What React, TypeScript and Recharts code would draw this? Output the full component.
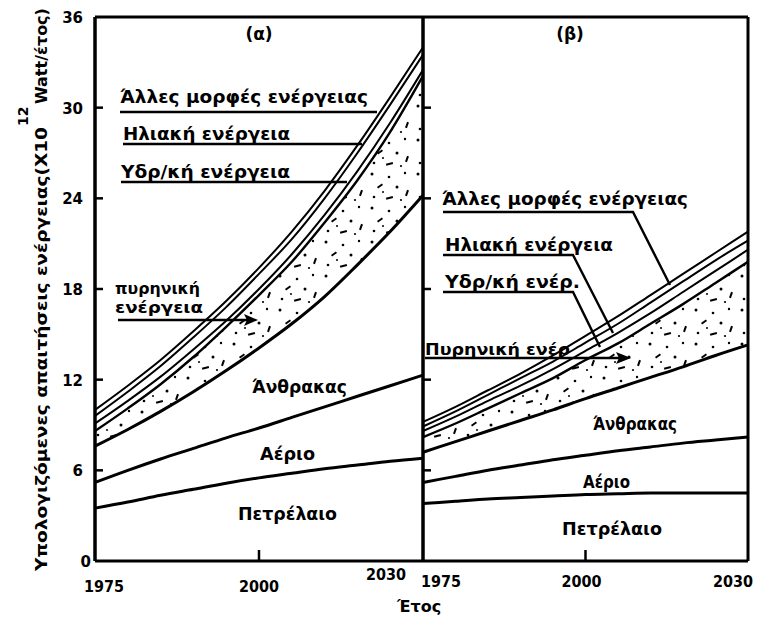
import { Area, ComposedChart, Line, ReferenceLine, XAxis, YAxis } from "recharts";

const FONT = "'DejaVu Sans', sans-serif";

// x positions in the drawing: 1975 at the left edge, 2000 in the middle, 2030 at the right edge
const years = [1975, 1980, 1985, 1990, 1995, 2000, 2006, 2012, 2018, 2024, 2030];
const yTicks = [0, 6, 12, 18, 24, 30, 36];

// panel (α): cumulative tops of each band (x10^12 W)
const oilA = [3.5, 3.9, 4.35, 4.75, 5.15, 5.5, 5.8, 6.1, 6.35, 6.6, 6.8];
const gasA = [5.2, 6.0, 6.75, 7.45, 8.15, 8.8, 9.5, 10.2, 10.9, 11.6, 12.3];
const coalA = [7.6, 8.7, 9.9, 11.2, 12.6, 14.1, 15.7, 17.5, 19.6, 21.8, 24.2];
const nuclearA = [8.6, 10.1, 11.7, 13.5, 15.5, 17.6, 19.8, 22.4, 25.2, 28.4, 32.1];
const hydroA = [9.1, 10.6, 12.2, 14.0, 15.9, 18.0, 20.3, 22.9, 25.8, 29.0, 32.5];
const solarA = [9.6, 11.2, 12.9, 14.8, 16.8, 19.0, 21.3, 24.0, 27.0, 30.2, 33.5];
const otherA = [10.0, 11.6, 13.3, 15.2, 17.2, 19.4, 21.8, 24.5, 27.5, 30.7, 34.0];

// panel (β)
const oilB = [3.8, 3.95, 4.1, 4.2, 4.3, 4.4, 4.45, 4.5, 4.5, 4.5, 4.5];
const gasB = [5.2, 5.6, 6.0, 6.35, 6.7, 7.0, 7.3, 7.55, 7.8, 8.0, 8.2];
const coalB = [7.2, 7.9, 8.6, 9.3, 10.0, 10.75, 11.45, 12.15, 12.85, 13.6, 14.3];
const nuclearB = [8.2, 9.1, 10.1, 11.1, 12.1, 13.3, 14.4, 15.7, 17.0, 18.4, 19.8];
const hydroB = [8.6, 9.55, 10.6, 11.6, 12.7, 13.9, 15.1, 16.4, 17.8, 19.2, 20.6];
const solarB = [8.9, 9.9, 11.0, 12.1, 13.2, 14.45, 15.7, 17.1, 18.5, 19.9, 21.2];
const otherB = [9.2, 10.2, 11.3, 12.4, 13.6, 14.9, 16.2, 17.6, 19.0, 20.4, 21.8];

function buildRows(oil, gas, coal, nuclear, hydro, solar, other) {
  return years.map((year, i) => ({
    year,
    oil: oil[i],
    gas: gas[i],
    coal: coal[i],
    nuclear: nuclear[i],
    hydro: hydro[i],
    solar: solar[i],
    other: other[i],
    band: [coal[i], nuclear[i]],
  }));
}

const rowsA = buildRows(oilA, gasA, coalA, nuclearA, hydroA, solarA, otherA);
const rowsB = buildRows(oilB, gasB, coalB, nuclearB, hydroB, solarB, otherB);

const PLOT_TOP = 17;
const CHART_H = 623;

// tick label tweaks per panel: dx from tick, baseline below axis
const labelsA = { 1975: [9, 31], 2000: [0, 31], 2030: [-37, 19] };
const labelsB = { 1975: [18, 26], 2000: [-4, 26], 2030: [-15, 26] };

function makeXTick(labels) {
  return (props) => {
    const { x, y, payload } = props;
    const spec = labels[payload.value];
    if (!spec) return <g />;
    return (
      <g>
        {payload.value === 2000 && (
          <line x1={x} x2={x} y1={y} y2={y - 11} stroke="#000" strokeWidth={2.5} />
        )}
        <text
          x={x + spec[0]}
          y={y + spec[1]}
          textAnchor="middle"
          textLength={40}
          lengthAdjust="spacingAndGlyphs"
          fontFamily={FONT}
          fontWeight="bold"
          fontSize={16}
          fill="#000"
        >
          {payload.value}
        </text>
      </g>
    );
  };
}

function makeYTick(withText) {
  return (props) => {
    const { x, y, payload } = props;
    const v = payload.value;
    return (
      <g>
        {v > 0 && v < 36 && (
          <line x1={x} x2={x + 8} y1={y} y2={y} stroke="#000" strokeWidth={2.5} />
        )}
        {withText && (
          <text
            x={v === 0 ? x - 4 : x - 12}
            y={y + 6}
            textAnchor="end"
            fontFamily={FONT}
            fontWeight="bold"
            fontSize={15}
            fill="#000"
          >
            {v}
          </text>
        )}
      </g>
    );
  };
}

function Speckle({ id }) {
  return (
    <defs>
      <pattern id={id} width="46" height="34" patternUnits="userSpaceOnUse">
        <rect width="46" height="34" fill="#fff" />
        <circle cx="4" cy="4" r="1.5" fill="#000" />
        <circle cx="21" cy="7" r="1.3" fill="#000" />
        <circle cx="37" cy="3" r="1.2" fill="#000" />
        <rect x="9" y="15" width="6" height="2" fill="#000" transform="rotate(-35 12 16)" />
        <circle cx="29" cy="17" r="1.5" fill="#000" />
        <rect x="38" y="20" width="2" height="6" fill="#000" transform="rotate(20 39 23)" />
        <circle cx="6" cy="27" r="1.3" fill="#000" />
        <rect x="18" y="27" width="7" height="2" fill="#000" transform="rotate(-15 21 28)" />
        <circle cx="33" cy="30" r="1.1" fill="#000" />
        <circle cx="15" cy="22" r="1" fill="#000" />
      </pattern>
    </defs>
  );
}

function Panel({ rows, width, margin, yWidth, showYText, labels, patternId, left, leftBorder }) {
  return (
    <div style={{ position: "absolute", left, top: 0 }}>
      <ComposedChart width={width} height={CHART_H} data={rows} margin={margin}>
        <Speckle id={patternId} />
        <XAxis
          dataKey="year"
          type="category"
          interval={0}
          height={CHART_H - 561}
          tickSize={0}
          tickMargin={0}
          axisLine={{ stroke: "#000", strokeWidth: 3 }}
          tickLine={false}
          tick={makeXTick(labels)}
        />
        <YAxis
          type="number"
          domain={[0, 36]}
          ticks={yTicks}
          width={yWidth}
          tickSize={0}
          tickMargin={0}
          axisLine={leftBorder ? { stroke: "#000", strokeWidth: 3 } : false}
          tickLine={false}
          tick={makeYTick(showYText)}
        />
        <Area
          type="monotone"
          dataKey="band"
          stroke="none"
          fill={`url(#${patternId})`}
          fillOpacity={1}
          isAnimationActive={false}
        />
        <Line type="monotone" dataKey="oil" stroke="#000" strokeWidth={3} dot={false} isAnimationActive={false} />
        <Line type="monotone" dataKey="gas" stroke="#000" strokeWidth={3} dot={false} isAnimationActive={false} />
        <Line type="monotone" dataKey="coal" stroke="#000" strokeWidth={3} dot={false} isAnimationActive={false} />
        <Line type="monotone" dataKey="nuclear" stroke="#000" strokeWidth={2.4} dot={false} isAnimationActive={false} />
        <Line type="monotone" dataKey="hydro" stroke="#000" strokeWidth={2} dot={false} isAnimationActive={false} />
        <Line type="monotone" dataKey="solar" stroke="#000" strokeWidth={2} dot={false} isAnimationActive={false} />
        <Line type="monotone" dataKey="other" stroke="#000" strokeWidth={2} dot={false} isAnimationActive={false} />
        <ReferenceLine y={36} stroke="#000" strokeWidth={3} />
        <ReferenceLine x={1975} stroke="#000" strokeWidth={3} />
        <ReferenceLine x={2030} stroke="#000" strokeWidth={3} />
      </ComposedChart>
    </div>
  );
}

function Note({ x, y, w, size = 15, children }) {
  return (
    <text
      x={x}
      y={y}
      textLength={w}
      lengthAdjust="spacingAndGlyphs"
      fontFamily={FONT}
      fontWeight="bold"
      fontSize={size}
      fill="#000"
    >
      {children}
    </text>
  );
}

function Annotations() {
  const ln = { stroke: "#000", strokeWidth: 2.4, fill: "none" };
  const bold = { fontFamily: FONT, fontWeight: "bold", fill: "#000" };
  return (
    <svg
      width={761}
      height={623}
      style={{ position: "absolute", left: 0, top: 0, pointerEvents: "none" }}
    >
      {/* y axis title, rotated, in three pieces like the original lettering */}
      <text
        transform="translate(47, 571) rotate(-90)"
        textLength={444}
        lengthAdjust="spacingAndGlyphs"
        fontSize={16}
        {...bold}
      >
        Υπολογιζόμενες απαιτήσεις ενέργειας(X10
      </text>
      <text transform="translate(28, 126) rotate(-90)" fontSize={14} {...bold}>
        12
      </text>
      <text transform="translate(47, 104) rotate(-90)" fontSize={16} {...bold}>
        Watt/έτος)
      </text>
      <text x={397} y={612} fontSize={16} {...bold}>Έτος</text>

      {/* panel titles */}
      <text x={259} y={40} textAnchor="middle" fontSize={17} {...bold}>(α)</text>
      <text x={570} y={40} textAnchor="middle" fontSize={17} {...bold}>(β)</text>

      {/* panel (α) */}
      <Note x={120} y={103} w={248} size={18}>Άλλες μορφές ενέργειας</Note>
      <line x1={120} y1={112} x2={377} y2={112} {...ln} />
      <Note x={123} y={140} w={167} size={18}>Ηλιακή ενέργεια</Note>
      <line x1={123} y1={144} x2={362} y2={144} {...ln} />
      <Note x={121} y={178} w={169} size={18}>Υδρ/κή ενέργεια</Note>
      <line x1={121} y1={182} x2={347} y2={182} {...ln} />
      <Note x={115} y={294} w={85} size={15}>πυρηνική</Note>
      <Note x={115} y={313} w={88} size={15}>ενέργεια</Note>
      <line x1={118} y1={320} x2={252} y2={320} {...ln} />
      <polygon points="258,320 244,314 247,320 244,326" fill="#000" />
      <Note x={252} y={393} w={95} size={17}>Άνθρακας</Note>
      <Note x={260} y={460} w={55} size={17}>Αέριο</Note>
      <Note x={238} y={520} w={99} size={17}>Πετρέλαιο</Note>

      {/* panel (β) */}
      <Note x={442} y={205} w={246} size={18}>Άλλες μορφές ενέργειας</Note>
      <polyline points="443,212 633,212 670,285" {...ln} />
      <Note x={445} y={251} w={168} size={18}>Ηλιακή ενέργεια</Note>
      <polyline points="443,255 573,255 613,333" {...ln} />
      <Note x={445} y={288} w={135} size={18}>Υδρ/κή ενέρ.</Note>
      <polyline points="443,292 573,292 600,347" {...ln} />
      <Note x={425} y={355} w={145} size={16}>Πυρηνική ενέρ</Note>
      <line x1={425} y1={358} x2={624} y2={358} {...ln} />
      <polygon points="631,358 616,352 619,358 616,364" fill="#000" />
      <Note x={593} y={430} w={84} size={17}>Άνθρακας</Note>
      <Note x={583} y={488} w={47} size={17}>Αέριο</Note>
      <Note x={562} y={535} w={100} size={17}>Πετρέλαιο</Note>
    </svg>
  );
}

export default function App() {
  return (
    <div
      style={{
        position: "absolute",
        left: 0,
        top: 0,
        width: 761,
        height: 623,
        background: "#fff",
        overflow: "hidden",
      }}
    >
      <Panel
        rows={rowsA}
        left={0}
        width={430}
        margin={{ top: PLOT_TOP, right: 7, bottom: 0, left: 0 }}
        yWidth={95}
        showYText={true}
        labels={labelsA}
        patternId="speckleA"
        leftBorder={true}
      />
      <Panel
        rows={rowsB}
        left={416}
        width={345}
        margin={{ top: PLOT_TOP, right: 13, bottom: 0, left: 0 }}
        yWidth={7}
        showYText={false}
        labels={labelsB}
        patternId="speckleB"
        leftBorder={false}
      />
      <Annotations />
    </div>
  );
}
